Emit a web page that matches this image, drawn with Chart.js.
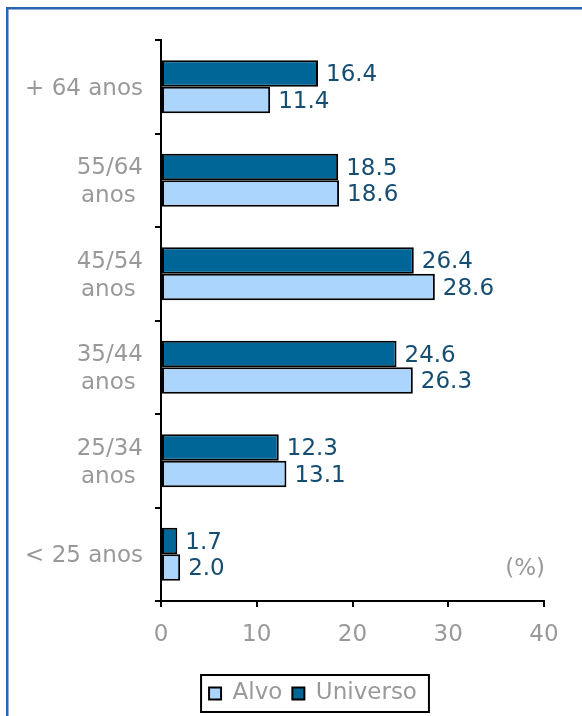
<!DOCTYPE html>
<html>
<head>
<meta charset="utf-8">
<script src="https://cdn.jsdelivr.net/npm/chart.js@4.4.1/dist/chart.umd.min.js"></script>
<style>
  html, body { margin: 0; padding: 0; background: #ffffff; }
  #wrap { width: 582px; height: 716px; }
</style>
</head>
<body>
<div id="wrap"><canvas id="c" width="582" height="716"></canvas></div>
<script>
const categories = ['+ 64 anos', ['55/64', 'anos'], ['45/54', 'anos'], ['35/44', 'anos'], ['25/34', 'anos'], '< 25 anos'];
const universo = [16.4, 18.5, 26.4, 24.6, 12.3, 1.7];
const alvo = [11.4, 18.6, 28.6, 26.3, 13.1, 2.0];
const xTickValues = [0, 10, 20, 30, 40];
const unitLabel = '(%)';

const GREY = '#999999';
const LABEL = '#154e72';
const FONT = 'DejaVu Sans';

Chart.defaults.font.family = FONT;
Chart.defaults.font.size = 23;
Chart.defaults.color = GREY;

const extras = {
  id: 'extras',
  afterLayout(chart) {
    const lg = chart.legend;
    if (lg) { lg.left += 41; lg.right += 41; }
  },
  beforeDraw(chart) {
    const ctx = chart.ctx;
    ctx.save();
    ctx.fillStyle = '#ffffff';
    ctx.fillRect(0, 0, chart.width, chart.height);
    ctx.fillStyle = '#2a63b0';
    ctx.fillRect(6, 7, chart.width - 6, 2.5);
    ctx.fillRect(6, 7, 2.5, chart.height - 7);
    ctx.restore();
  },
  afterDatasetsDraw(chart) {
    const ctx = chart.ctx;
    ctx.save();
    ctx.font = '23px "' + FONT + '"';
    ctx.fillStyle = LABEL;
    ctx.textAlign = 'left';
    ctx.textBaseline = 'middle';
    chart.data.datasets.forEach((ds, di) => {
      const meta = chart.getDatasetMeta(di);
      meta.data.forEach((bar, i) => {
        ctx.fillText(ds.data[i].toFixed(1), bar.x + 8, bar.y + 2);
      });
    });
    const last = chart.getDatasetMeta(1).data[categories.length - 1];
    ctx.fillStyle = GREY;
    ctx.textAlign = 'right';
    ctx.fillText(unitLabel, chart.chartArea.right + 1, last.y + 2);
    ctx.restore();
  },
  afterDraw(chart) {
    const hb = chart.legend && chart.legend.legendHitBoxes;
    if (!hb || !hb.length) return;
    const ctx = chart.ctx;
    const x0 = hb[0].left - 8;
    const lastB = hb[hb.length - 1];
    const x1 = lastB.left + lastB.width + 12;
    const y0 = hb[0].top - 7;
    const y1 = hb[0].top + hb[0].height + 7;
    ctx.save();
    ctx.strokeStyle = '#000000';
    ctx.lineWidth = 2;
    ctx.strokeRect(x0, y0, x1 - x0, y1 - y0);
    ctx.restore();
  }
};

new Chart(document.getElementById('c'), {
  type: 'bar',
  data: {
    labels: categories,
    datasets: [
      {
        label: 'Universo',
        data: universo,
        backgroundColor: '#006597',
        borderColor: '#000000',
        borderWidth: 2,
        borderSkipped: false,
        barPercentage: 1,
        categoryPercentage: 0.567
      },
      {
        label: 'Alvo',
        data: alvo,
        backgroundColor: '#abd5fd',
        borderColor: '#000000',
        borderWidth: 2,
        borderSkipped: false,
        barPercentage: 1,
        categoryPercentage: 0.567
      }
    ]
  },
  options: {
    indexAxis: 'y',
    responsive: false,
    animation: false,
    devicePixelRatio: 1,
    layout: { padding: { left: 0, right: 38, top: 40, bottom: 1 } },
    plugins: {
      tooltip: { enabled: false },
      legend: {
        position: 'bottom',
        reverse: true,
        labels: {
          boxWidth: 12,
          boxHeight: 12,
          padding: 10,
          color: GREY,
          font: { size: 23, family: FONT }
        }
      }
    },
    scales: {
      x: {
        type: 'linear',
        min: 0,
        max: 40,
        afterBuildTicks(scale) { scale.ticks = xTickValues.map(v => ({ value: v })); },
        afterFit(scale) { scale.height = 71; },
        border: { display: true, color: '#000000', width: 2 },
        grid: { display: true, drawOnChartArea: false, drawTicks: true, tickLength: 6, color: '#000000', lineWidth: 2 },
        ticks: { color: GREY, padding: 14, font: { size: 23 } }
      },
      y: {
        type: 'category',
        afterFit(scale) { scale.width = 161; },
        border: { display: true, color: '#000000', width: 2 },
        grid: { display: true, offset: true, drawOnChartArea: false, drawTicks: true, tickLength: 6, color: '#000000', lineWidth: 2 },
        ticks: {
          color: GREY,
          padding: 12,
          labelOffset: 2,
          autoSkip: false,
          font: { size: 23 },
          callback(value, index) {
            const l = categories[index];
            return Array.isArray(l) ? [l[0], l[1] + ' '] : l;
          }
        }
      }
    }
  },
  plugins: [extras]
});
</script>
</body>
</html>
